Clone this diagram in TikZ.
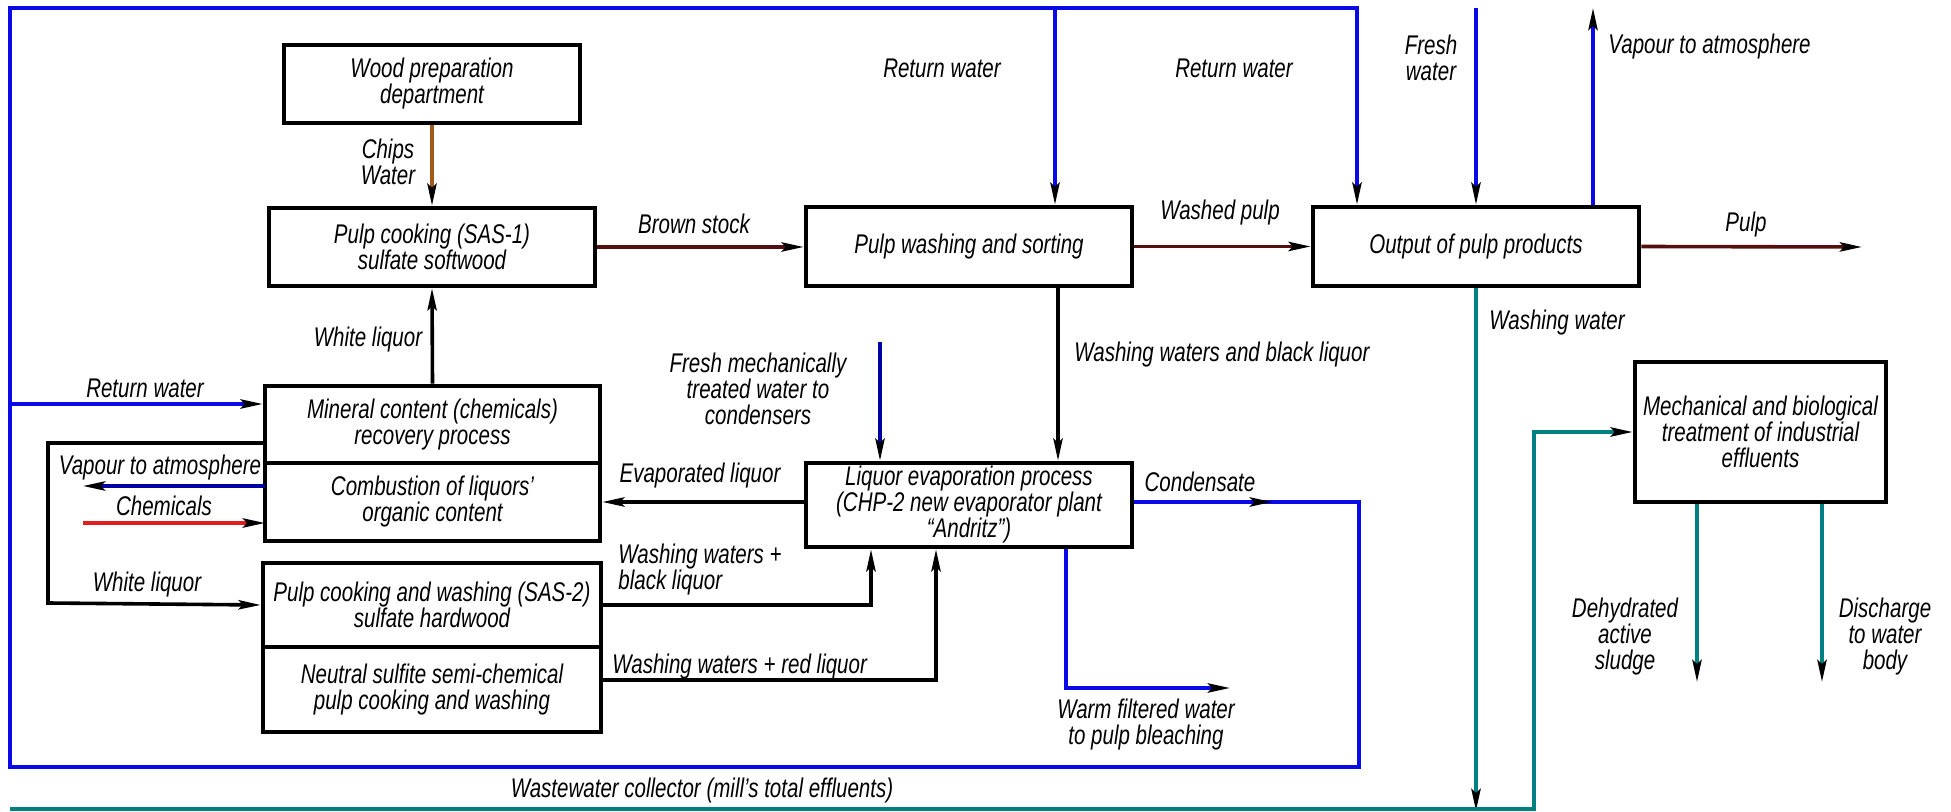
\documentclass[tikz,border=0pt]{standalone}
\usepackage{fontspec}
\setmainfont{Liberation Sans}[FakeStretch=0.76]
\usetikzlibrary{arrows.meta,calc}

\definecolor{pipeblue}{RGB}{10,10,230}
\definecolor{pipenavy}{RGB}{0,0,160}
\definecolor{chipbrown}{RGB}{160,90,30}
\definecolor{stockbrown}{RGB}{85,15,15}
\definecolor{chemred}{RGB}{225,30,30}
\definecolor{drainteal}{RGB}{0,128,128}

\begin{document}
\begin{tikzpicture}[x=0.5pt,y=-0.5pt,
  every node/.style={font=\fontsize{13.5}{13}\selectfont\itshape, align=center, inner sep=1pt},
  procbox/.style={draw, line width=2.3pt, rectangle, inner sep=0pt},
  flow/.style={line width=1.8pt, line join=miter,
    -{Stealth[length=11pt,width=4.6pt,inset=2pt,color=black]}}]

\useasboundingbox (0,0) rectangle (1951,812);

% process units
\node[procbox, minimum width=148pt, minimum height=39pt] (wood) at (432,84)
  {Wood preparation\\department};
\node[procbox, minimum width=163pt, minimum height=39pt] (cook1) at (432,247)
  {Pulp cooking (SAS-1)\\sulfate softwood};
\node[procbox, minimum width=163pt, minimum height=39.5pt] (wash) at (969,246.5)
  {Pulp washing and sorting};
\node[procbox, minimum width=163pt, minimum height=39.5pt] (output) at (1476,246.5)
  {Output of pulp products};
\node[procbox, minimum width=167.5pt, minimum height=38.5pt] (mineral) at (432.5,424.5)
  {Mineral content (chemicals)\\recovery process};
\node[procbox, minimum width=167.5pt, minimum height=39pt] (combust) at (432.5,502)
  {Combustion of liquors'\\organic content};
\node[procbox, minimum width=163pt, minimum height=42pt] (liquor) at (969,505)
  {Liquor evaporation process\\(CHP-2 new evaporator plant\\``Andritz'')};
\node[procbox, minimum width=169pt, minimum height=42pt] (sas2) at (432,605)
  {Pulp cooking and washing (SAS-2)\\sulfate hardwood};
\node[procbox, minimum width=169pt, minimum height=42.5pt] (nssc) at (432,689.5)
  {Neutral sulfite semi-chemical\\pulp cooking and washing};
\node[procbox, minimum width=125.5pt, minimum height=70pt] (treat) at (1760.5,432)
  {Mechanical and biological\\treatment of industrial\\effluents};

% routing points
\coordinate (frTL) at (10,8);
\coordinate (frBL) at (10,767);
\coordinate (frBR) at (1359,767);
\coordinate (condc) at (1359,502);
\coordinate (condtip) at (1272,502);
\coordinate (rtop) at (1357,8);
\coordinate (rw1top) at (1055,8);
\coordinate (fwtop) at (1476,8);
\coordinate (vaptop) at (1593,8);
\coordinate (pulpend) at (1862,247);
\coordinate (collend) at (1476,811);
\coordinate (collL) at (10,809);
\coordinate (collR) at (1534,809);
\coordinate (rwleft) at (10,404);
\coordinate (wlA) at (265,443);
\coordinate (wlB) at (48,443);
\coordinate (wlC) at (48,603);
\coordinate (vapA) at (265,486);
\coordinate (vapB) at (83,486);
\coordinate (chemA) at (83,523);
\coordinate (chemB) at (265,523);
\coordinate (fmtop) at (880,342);
\coordinate (wbx) at (1058,300);
\coordinate (sbA) at (871,605);
\coordinate (srA) at (936,680);
\coordinate (wfA) at (1066,688);
\coordinate (wfB) at (1230,688);
\coordinate (sludge) at (1697,682);
\coordinate (disch) at (1822,682);

% return water loop round the mill
\draw[flow, pipeblue] (liquor.east |- condc) -- (condc) -- (frBR) -- (frBL) -- (frTL)
  -- (rtop) -- (rtop |- output.north);
\draw[flow, pipeblue] (liquor.east |- condc) -- (condtip);
\draw[flow, pipeblue] (rw1top) -- (rw1top |- wash.north);
\draw[flow, pipeblue] (rwleft) -- (rwleft -| mineral.west);
\draw[flow, pipeblue] (fwtop) -- (output.north);
\draw[flow, pipeblue] (vaptop |- output.north) -- (vaptop);

% fibre line
\draw[flow, chipbrown] (wood.south) -- (cook1.north);
\draw[flow, stockbrown] (cook1.east) -- (cook1.east -| wash.west);
\draw[flow, stockbrown] (wash.east) -- (output.west);
\draw[flow, stockbrown] (output.east) -- (pulpend);

% liquor circuit
\draw[flow] (mineral.north) -- (cook1.south);
\draw[flow] (wlA) -- (wlB) -- (wlC) -- (sas2.west);
\draw[flow, pipenavy] (vapA) -- (vapB);
\draw[flow, chemred] (chemA) -- (chemB);
\draw[flow] (liquor.west |- combust.east) -- (combust.east);
\draw[flow, pipenavy] (fmtop) -- (fmtop |- liquor.north);
\draw[flow] (wbx |- wash.south) -- (wbx |- liquor.north);
\draw[flow] (sas2.east |- sbA) -- (sbA) -- (sbA |- liquor.south);
\draw[flow] (nssc.east |- srA) -- (srA) -- (srA |- liquor.south);
\draw[flow, pipeblue] (wfA |- liquor.south) -- (wfA) -- (wfB);

% effluents
\draw[flow, drainteal] (output.south) -- (collend);
\draw[flow, drainteal] (collL) -- (collR) -- (collR |- treat.west) -- (treat.west);
\draw[flow, drainteal] (sludge |- treat.south) -- (sludge);
\draw[flow, drainteal] (disch |- treat.south) -- (disch);

% stream labels
\node (lchips) at (388,162) {Chips\\Water};
\node (lbrown) at (694,224) {Brown stock};
\node (lrw1) at (942,68) {Return water};
\node (lrw2) at (1234,68) {Return water};
\node (lwashed) at (1220,213) {Washed pulp};
\node (lfresh) at (1431,58) {Fresh\\water};
\node[anchor=west] (lvap1) at (1606,47) {Vapour to atmosphere};
\node (lpulp) at (1746,225) {Pulp};
\node[anchor=west] (lwashw) at (1487,323) {Washing water};
\node (lwl1) at (368,340) {White liquor};
\node (lrw3) at (145,388) {Return water};
\node (lvap2) at (160,468) {Vapour to atmosphere};
\node (lchem) at (164,506) {Chemicals};
\node (levap) at (700,476) {Evaporated liquor};
\node (lfmw) at (758,389) {Fresh mechanically\\treated water to\\condensers};
\node[anchor=west] (lwwbl) at (1072,355) {Washing waters and black liquor};
\node (lcond) at (1200,482) {Condensate};
\node[anchor=west, align=left] (lwwb) at (616,570) {Washing waters +\\black liquor};
\node (lwl2) at (147,585) {White liquor};
\node[anchor=west] (lwwr) at (610,667) {Washing waters + red liquor};
\node (lwarm) at (1146,725) {Warm filtered water\\to pulp bleaching};
\node (lcoll) at (702,791) {Wastewater collector (mill's total effluents)};
\node (lsludge) at (1625,637) {Dehydrated\\active\\sludge};
\node (ldisch) at (1885,637) {Discharge\\to water\\body};

\end{tikzpicture}
\end{document}
